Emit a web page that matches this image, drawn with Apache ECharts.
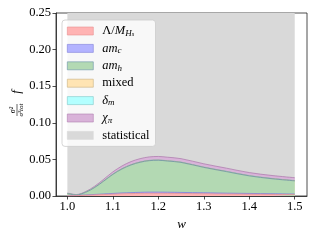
<!DOCTYPE html>
<html><head><meta charset="utf-8">
<script src="https://cdn.jsdelivr.net/npm/echarts@6/dist/echarts.min.js"></script>
<style>html,body{margin:0;padding:0;background:#fff}#c{width:320px;height:240px}</style>
</head><body><div id="c"></div>
<script>
// recoil parameter w
const w        = [1.00, 1.02, 1.04, 1.06, 1.08, 1.10, 1.12, 1.14, 1.16, 1.18, 1.20, 1.22, 1.25, 1.30, 1.35, 1.40, 1.45, 1.50];
// stacked error-budget contributions
const lambdaM  = [0.0003, 0.0005, 0.0010, 0.0015, 0.0020, 0.0025, 0.0030, 0.0033, 0.0036, 0.0038, 0.0038, 0.0037, 0.0035, 0.0031, 0.0027, 0.0024, 0.0021, 0.0018];
const amc      = [0.0002, 0.0003, 0.0004, 0.0006, 0.0008, 0.0010, 0.0012, 0.0013, 0.0014, 0.0015, 0.0015, 0.0015, 0.0014, 0.0013, 0.0012, 0.0011, 0.0010, 0.0009];
const amh      = [0.0028, 0.0007, 0.0036, 0.0095, 0.0175, 0.0260, 0.0327, 0.0378, 0.0411, 0.0430, 0.0435, 0.0426, 0.0410, 0.0347, 0.0294, 0.0240, 0.0205, 0.0180];
const mixed    = [0.0001, 0.0001, 0.0001, 0.0001, 0.0002, 0.0002, 0.0002, 0.0002, 0.0002, 0.0002, 0.0002, 0.0002, 0.0002, 0.0002, 0.0002, 0.0002, 0.0002, 0.0002];
const deltaM   = [0.0001, 0.0001, 0.0001, 0.0001, 0.0002, 0.0002, 0.0002, 0.0002, 0.0002, 0.0002, 0.0002, 0.0002, 0.0002, 0.0002, 0.0002, 0.0002, 0.0002, 0.0002];
const chiPi    = [0.0005, 0.0003, 0.0008, 0.0015, 0.0022, 0.0030, 0.0037, 0.0042, 0.0045, 0.0047, 0.0048, 0.0048, 0.0047, 0.0045, 0.0043, 0.0041, 0.0040, 0.0039];
const statistical = [0.5, 0.5, 0.5, 0.5, 0.5, 0.5, 0.5, 0.5, 0.5, 0.5, 0.5, 0.5, 0.5, 0.5, 0.5, 0.5, 0.5, 0.5];

const seriesNames = ['Λ/M_Hs', 'am_c', 'am_h', 'mixed', 'δ_m', 'χ_π', 'statistical'];
const seriesValues = [lambdaM, amc, amh, mixed, deltaM, chiPi, statistical];
const legendRich = ['{r|Λ/}{i|M}{s|H}{ss|s}', '{i|am}{s|c}', '{i|am}{s|h}', '{r|mixed}', '{i|δ}{s|m}', '{i|χ}{s|π}', '{r|statistical}'];
const xTicks = [1.0, 1.1, 1.2, 1.3, 1.4, 1.5];

const fills = ['#ffb3b3', '#b3b3ff', '#b3d9b3', '#ffe4b3', '#b3ffff', '#d9b3d9', '#d9d9d9'];
const edges = ['#e89090', '#7f7fd8', '#6a92a8', '#c8b080', '#80c8c8', '#b07fb0', '#d9d9d9'];

// cumulative (stacked) tops, built from the arrays above
const cum = [];
seriesValues.forEach((arr, i) => {
  cum.push(arr.map((v, k) => v + (i ? cum[i - 1][k] : 0)));
});

const F = 'Liberation Serif';
const chart = echarts.init(document.getElementById('c'), null, {renderer: 'canvas'});
chart.setOption({
  animation: false,
  grid: {left: 56, right: 13, top: 13, bottom: 44, show: true, borderColor: '#222', borderWidth: 0.8, backgroundColor: 'transparent', outerBoundsMode: 'none'},
  xAxis: {
    type: 'value', min: 0.975, max: 1.527,
    name: 'w', nameLocation: 'middle', nameGap: 21,
    nameTextStyle: {fontFamily: F, fontStyle: 'italic', fontSize: 13, color: '#000'},
    axisLine: {show: true, lineStyle: {color: '#222', width: 0.8}},
    axisTick: {show: true, length: 3.5, lineStyle: {color: '#222', width: 0.8}, customValues: xTicks},
    axisLabel: {fontFamily: F, fontSize: 12.5, color: '#000', margin: 4, customValues: xTicks, formatter: v => v.toFixed(1)},
    splitLine: {show: false}
  },
  yAxis: {
    type: 'value', min: 0, max: 0.25, interval: 0.05,
    axisLine: {show: true, lineStyle: {color: '#222', width: 0.8}},
    axisTick: {show: true, length: 3.5, lineStyle: {color: '#222', width: 0.8}},
    axisLabel: {fontFamily: F, fontSize: 12.5, color: '#000', margin: 5, formatter: v => v.toFixed(2)},
    splitLine: {show: false}
  },
  legend: {
    orient: 'vertical', left: 62, top: 20, z: 20,
    padding: [4, 6, 4, 5], itemGap: 3.4, itemWidth: 26, itemHeight: 8, icon: 'rect',
    backgroundColor: 'rgba(255,255,255,0.8)', borderColor: '#cccccc', borderWidth: 0.8, borderRadius: 3,
    data: seriesNames.map((n, i) => ({name: n, itemStyle: {color: fills[i], borderColor: edges[i], borderWidth: 0.6}})),
    formatter: n => legendRich[seriesNames.indexOf(n)],
    textStyle: {
      fontFamily: F, fontSize: 12.5, color: '#000', lineHeight: 14, padding: [0, 0, 0, 4],
      rich: {
        r: {fontFamily: F, fontSize: 12.5, lineHeight: 14, color: '#000'},
        i: {fontFamily: F, fontSize: 12.5, fontStyle: 'italic', lineHeight: 14, color: '#000'},
        s: {fontFamily: F, fontSize: 9, fontStyle: 'italic', lineHeight: 9, verticalAlign: 'bottom', color: '#000'},
        ss: {fontFamily: F, fontSize: 6.5, fontStyle: 'italic', lineHeight: 5, verticalAlign: 'bottom', padding: [2, 0, 0, 0], color: '#000'}
      }
    }
  },
  series: seriesNames.map((n, i) => ({
    name: n, type: 'line', smooth: 0.35, symbol: 'none',
    data: w.map((x, k) => [x, cum[i][k]]),
    itemStyle: {color: fills[i]},
    lineStyle: {color: edges[i], width: i === 6 ? 0 : 0.8},
    areaStyle: {color: fills[i], opacity: 1, origin: 'start'},
    z: 10 - i
  })),
  graphic: [{
    type: 'group', x: 17, y: 101, rotation: Math.PI / 2,
    children: [
      {type: 'text', x: 9, y: 0, style: {text: 'f', font: 'italic 13px "Liberation Serif"', fill: '#000', align: 'center', verticalAlign: 'middle'}},
      {type: 'text', x: -9, y: -4.5, style: {text: 'σ²', font: 'italic 8px "Liberation Serif"', fill: '#000', align: 'center', verticalAlign: 'middle'}},
      {type: 'line', shape: {x1: -15, y1: 0, x2: -3, y2: 0}, style: {stroke: '#000', lineWidth: 0.6}},
      {type: 'text', x: -9, y: 4.5, style: {text: 'σ²tot', font: 'italic 7px "Liberation Serif"', fill: '#000', align: 'center', verticalAlign: 'middle'}}
    ]
  }]
});
</script></body></html>
